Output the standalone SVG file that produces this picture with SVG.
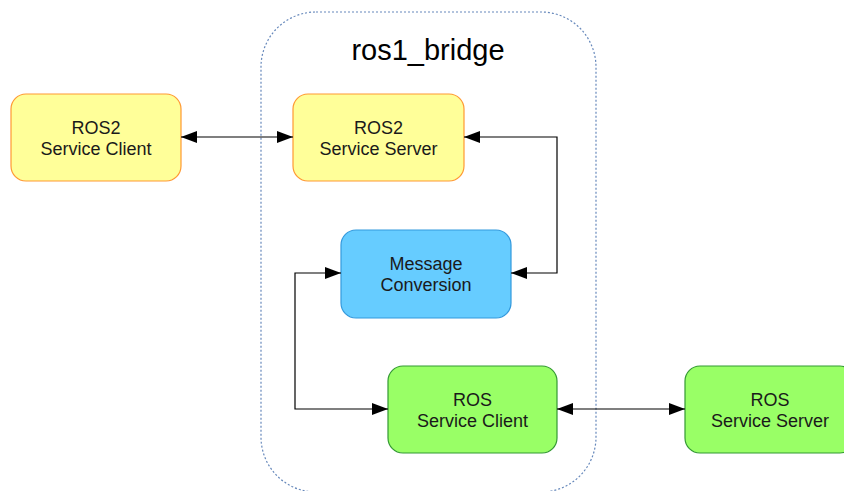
<svg xmlns="http://www.w3.org/2000/svg" width="844" height="491" viewBox="0 0 844 491">
<style>
.lbl{font-family:"Liberation Sans",Arial,sans-serif;font-size:18px;fill:#1a1a1a;text-anchor:middle}
.y{fill:#ffff99;stroke:#ff9933;stroke-width:1.2}
.b{fill:#66ccff;stroke:#3399dd;stroke-width:1.2}
.g{fill:#99ff66;stroke:#339933;stroke-width:1.2}
.c{fill:none;stroke:#000;stroke-width:1.2}
</style>
<defs>
<marker id="ah" viewBox="0 0 16 12" refX="16" refY="6" markerWidth="16" markerHeight="12" markerUnits="userSpaceOnUse" orient="auto-start-reverse">
<path d="M0,0 L16,6 L0,12 Z" fill="#000"/>
</marker>
</defs>
<g id="ros1_bridge">
<rect x="261" y="12" width="335" height="480" rx="55" fill="none" stroke="#6688bb" stroke-width="1.2" stroke-dasharray="2,2"/>
<text x="428" y="60" style="font-family:'Liberation Sans',Arial,sans-serif;font-size:29px;fill:#000;text-anchor:middle">ros1_bridge</text>
</g>
<g id="ros2_client">
<rect class="y" x="11" y="94" width="170" height="87" rx="15"/>
<text class="lbl" x="96" y="134">ROS2</text>
<text class="lbl" x="96" y="155">Service Client</text>
</g>
<g id="ros2_server">
<rect class="y" x="293" y="94" width="171" height="87" rx="15"/>
<text class="lbl" x="378.5" y="134">ROS2</text>
<text class="lbl" x="378.5" y="155">Service Server</text>
</g>
<g id="msg_conv">
<rect class="b" x="341" y="230" width="170" height="88" rx="15"/>
<text class="lbl" x="426" y="270">Message</text>
<text class="lbl" x="426" y="291">Conversion</text>
</g>
<g id="ros_client">
<rect class="g" x="388" y="366" width="169" height="87" rx="15"/>
<text class="lbl" x="472.5" y="406">ROS</text>
<text class="lbl" x="472.5" y="427">Service Client</text>
</g>
<g id="ros_server">
<rect class="g" x="685" y="366" width="170" height="87" rx="15"/>
<text class="lbl" x="770" y="406">ROS</text>
<text class="lbl" x="770" y="427">Service Server</text>
</g>
<g id="connectors">
<path class="c" d="M181,137 L293,137" marker-start="url(#ah)" marker-end="url(#ah)"/>
<path class="c" d="M464,137 L557,137 L557,273 L511,273" marker-start="url(#ah)" marker-end="url(#ah)"/>
<path class="c" d="M341,273 L295,273 L295,409 L388,409" marker-start="url(#ah)" marker-end="url(#ah)"/>
<path class="c" d="M557,409 L685,409" marker-start="url(#ah)" marker-end="url(#ah)"/>
</g>
</svg>
